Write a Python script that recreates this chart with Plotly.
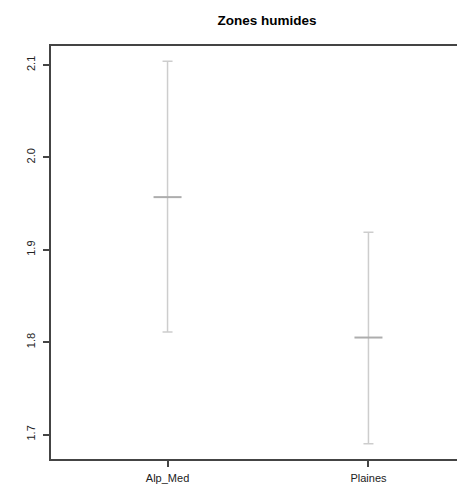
import plotly.graph_objects as go

categories = ["Alp_Med", "Plaines"]
means = [1.957, 1.805]
upper = [2.104, 1.919]
lower = [1.811, 1.690]
y_ticks = [1.7, 1.8, 1.9, 2.0, 2.1]
y_tick_labels = ["1.7", "1.8", "1.9", "2.0", "2.1"]
title = "Zones humides"

x_pos = [i + 1 for i in range(len(categories))]

fig = go.Figure()
fig.add_trace(go.Scatter(
    x=x_pos, y=means, mode="markers",
    marker=dict(symbol="line-ew", size=20, line=dict(width=2, color="#adadad"), color="#adadad"),
    error_y=dict(type="data", symmetric=False,
                 array=[u - m for u, m in zip(upper, means)],
                 arrayminus=[m - l for m, l in zip(means, lower)],
                 color="#cdcdcd", thickness=1.5, width=5),
    showlegend=False, hoverinfo="skip",
))

W, H = 477, 481  # page body adds an 8px offset; plot box extends past the window's right edge
font = "Liberation Sans, Arial, sans-serif"
fig.update_layout(
    width=W, height=H,
    margin=dict(l=43, r=0, t=38, b=30),
    paper_bgcolor="white", plot_bgcolor="white",
    title=dict(text="<b>" + title + "</b>", x=259 / W, xanchor="center",
               y=1 - 12 / H, yanchor="middle",
               font=dict(family=font, size=13.5, color="black")),
    font=dict(family=font, size=11, color="#222"),
    xaxis=dict(range=[0.42, 2.58], tickvals=x_pos, ticktext=categories,
               showgrid=False, zeroline=False, showline=True, mirror=True,
               linecolor="#444", linewidth=1.5, ticks="outside", ticklen=6,
               tickcolor="#444", tickwidth=1.5, tickfont=dict(size=11),
               ticklabelstandoff=2),
    yaxis=dict(range=[1.6735, 2.1206], tickvals=y_ticks, ticktext=y_tick_labels,
               showgrid=False, zeroline=False, showline=True, mirror=False,
               linecolor="#444", linewidth=1.5, ticks="outside", ticklen=6,
               tickcolor="#444", tickwidth=1.5, tickangle=-90, tickfont=dict(size=11),
               ticklabelstandoff=4),
)
fig.write_html("out.html")
